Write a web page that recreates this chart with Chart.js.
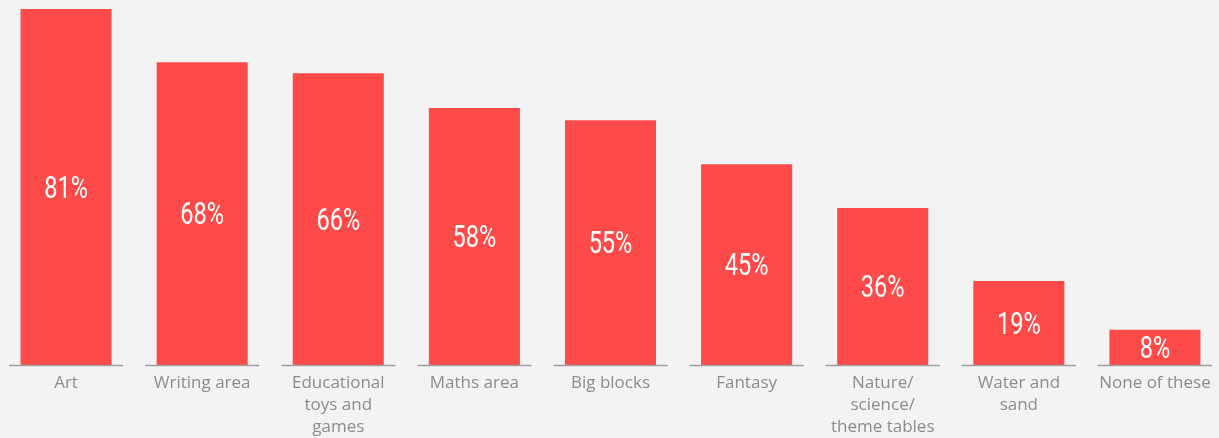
<!DOCTYPE html>
<html>
<head>
<meta charset="utf-8">
<script src="https://cdn.jsdelivr.net/npm/chart.js@4.4.1/dist/chart.umd.min.js"></script>
<style>
    html, body { margin: 0; padding: 0; background: #f3f3f3; overflow: hidden; }
    #wrap { position: absolute; left: -2px; top: 0; width: 1225px; height: 438px; }
</style>
</head>
<body>
<div id="wrap"><canvas id="chart"></canvas></div>
<script>
// categories (multi-line labels as they wrap in the picture)
let categories = [
    "Art",
    "Writing area",
    ["Educational", "toys and", "games"],
    "Maths area",
    "Big blocks",
    "Fantasy",
    ["Nature/", "science/", "theme tables"],
    ["Water and", "sand"],
    "None of these"
];
// bar heights (percent)
let values = [81, 68.9, 66.4, 58.5, 55.7, 45.7, 35.7, 19.1, 8.0];
// printed labels inside the bars
let valueLabels = ["81%", "68%", "66%", "58%", "55%", "45%", "36%", "19%", "8%"];

let barColor = "#ff4a4a";

// draws the short grey base line under every category
const baseLines = {
    id: "baseLines",
    afterDatasetsDraw(chart) {
        const ctx = chart.ctx;
        const x = chart.scales.x;
        const y = chart.chartArea.bottom + 0.6;
        const half = (x.width / categories.length) * 0.838 / 2;
        ctx.save();
        ctx.strokeStyle = "#9e9e9e";
        ctx.lineWidth = 1.5;
        for (let i = 0; i < categories.length; i++) {
            const cx = x.getPixelForValue(i);
            ctx.beginPath();
            ctx.moveTo(cx - half, y);
            ctx.lineTo(cx + half, y);
            ctx.stroke();
        }
        ctx.restore();
    }
};

// white condensed percentage in the middle of each bar
const barLabels = {
    id: "barLabels",
    afterDatasetsDraw(chart) {
        const ctx = chart.ctx;
        const meta = chart.getDatasetMeta(0);
        ctx.save();
        ctx.fillStyle = "#ffffff";
        ctx.textAlign = "center";
        ctx.textBaseline = "middle";
        ctx.font = "31px Roboto, sans-serif";
        meta.data.forEach((bar, i) => {
            const cy = (bar.y + bar.base) / 2 + 3;
            ctx.save();
            ctx.translate(bar.x, cy);
            ctx.scale(0.76, 1);
            ctx.fillText(valueLabels[i], 0, 0);
            ctx.restore();
        });
        ctx.restore();
    }
};

new Chart(document.getElementById("chart"), {
    type: "bar",
    data: {
        labels: categories,
        datasets: [{
            data: values,
            backgroundColor: barColor,
            borderWidth: 0,
            barPercentage: 0.669,
            categoryPercentage: 1.0
        }]
    },
    options: {
        responsive: true,
        maintainAspectRatio: false,
        animation: false,
        layout: { padding: { top: 9, left: 0, right: 0, bottom: 0 } },
        plugins: {
            legend: { display: false },
            tooltip: { enabled: false }
        },
        scales: {
            y: {
                display: false,
                min: 0,
                max: 81
            },
            x: {
                grid: { display: false, drawTicks: false },
                border: { display: false },
                ticks: {
                    color: "#8c8c8c",
                    padding: 7,
                    maxRotation: 0,
                    autoSkip: false,
                    font: { family: "'Open Sans', sans-serif", size: 17, lineHeight: 1.3 }
                },
                afterFit(scale) {
                    scale.height = 73;
                }
            }
        }
    },
    plugins: [baseLines, barLabels]
});
</script>
</body>
</html>
